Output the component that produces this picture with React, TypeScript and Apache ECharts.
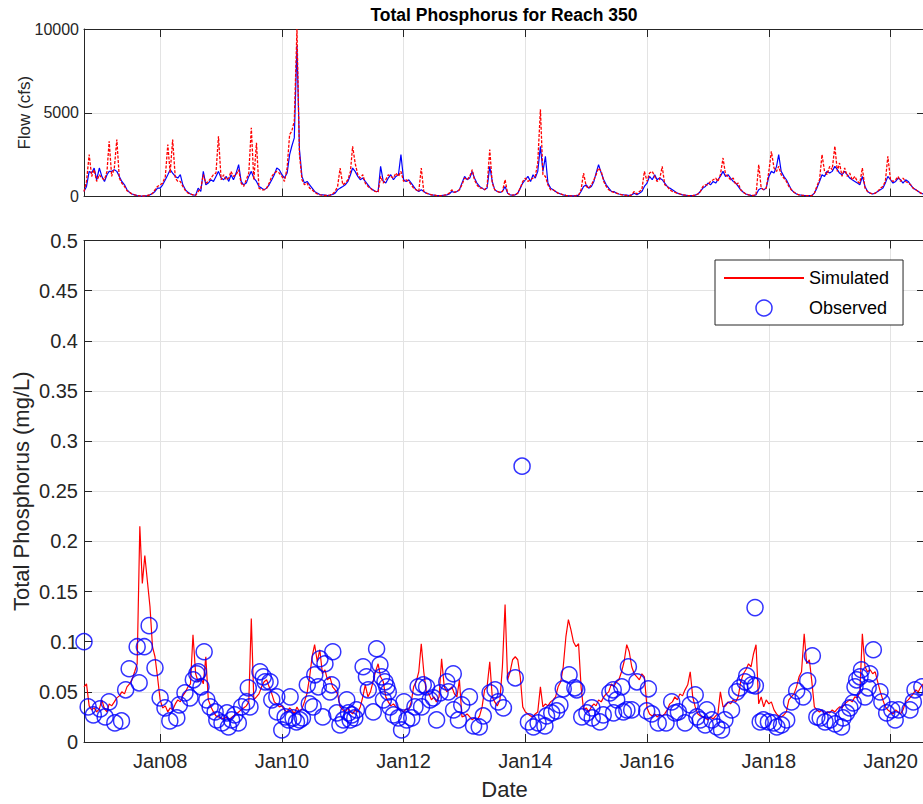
import React, { useEffect, useRef } from "react";
import * as echarts from "echarts";

// ---------- data ----------
const AXIS_START = "2006-10-01";
const AXIS_END = "2020-07-26";
const SERIES_START_YEAR = 2006;
const SERIES_START_MONTH = 10; // samples on the 1st and 16th of each month

// Flow (cfs), observed (blue), semi-monthly samples
const FLOW_OBS = [
  300, 600, 1500, 1400, 1700, 1000, 1700, 1200, 900, 1300, 1500, 1500, 1600, 1500, 1200, 900, 700, 400, 250, 150, 100, 60, 40, 30,
  40, 60, 100, 180, 300, 500, 500, 700, 1000, 1300, 1600, 1400, 1200, 1100, 1300, 700, 400, 250, 150, 100, 80, 500, 300, 1500,
  700, 800, 1000, 900, 1200, 1500, 1100, 1000, 1200, 900, 1300, 1000, 1400, 1900, 900, 700, 800, 1200, 1500, 1100, 900, 600, 500, 400,
  500, 700, 1000, 1300, 1700, 1600, 1300, 1100, 1400, 2500, 3000, 3500, 9000, 2800, 1200, 800, 900, 700, 500, 300, 200, 120, 100, 80,
  60, 80, 120, 200, 400, 500, 600, 700, 900, 1300, 1700, 1500, 1200, 1000, 1100, 900, 700, 500, 400, 300, 300, 1800, 900, 800,
  1100, 1300, 1000, 1200, 1300, 2500, 1000, 900, 1000, 800, 600, 400, 300, 400, 300, 200, 150, 100, 80, 60, 50, 60, 80, 100,
  150, 300, 250, 300, 400, 800, 1200, 1000, 1100, 1500, 1100, 800, 600, 500, 400, 500, 1800, 900, 400, 300, 250, 300, 600, 200,
  100, 80, 100, 200, 500, 800, 1000, 1200, 900, 1300, 1100, 1500, 3000, 1500, 2400, 800, 500, 400, 300, 200, 150, 100, 70, 50,
  40, 40, 50, 80, 300, 600, 700, 500, 600, 900, 1400, 1900, 1400, 1000, 700, 500, 300, 300, 200, 150, 120, 100, 80, 60,
  100, 200, 100, 200, 300, 600, 800, 1200, 1000, 1300, 1000, 1100, 1000, 800, 600, 500, 400, 300, 200, 150, 100, 80, 60, 50,
  50, 80, 150, 300, 500, 600, 800, 700, 900, 800, 1000, 1200, 1500, 1200, 1300, 1100, 900, 800, 600, 400, 250, 150, 100, 70,
  60, 100, 400, 500, 400, 500, 1200, 1500, 1400, 1800, 2500, 1500, 1200, 1000, 700, 400, 250, 150, 100, 80, 60, 50, 50, 60,
  200, 500, 900, 1300, 1200, 1500, 1400, 1500, 1800, 1600, 1400, 1300, 1500, 1300, 1100, 1000, 900, 800, 700, 1200, 600, 300, 200, 150,
  200, 300, 400, 500, 800, 1200, 1000, 800, 900, 1100, 1000, 800, 1000, 900, 700, 500, 400, 300, 200, 150, 120,
];

// Flow (cfs), simulated (red)
const FLOW_SIM = [
  300, 900, 2500, 1200, 1600, 900, 1300, 1100, 1000, 1500, 3300, 1200, 1700, 3400, 1100, 800, 600, 350, 250, 150, 100, 60, 40, 30,
  40, 60, 100, 180, 400, 600, 700, 800, 1200, 3100, 1400, 3400, 1100, 900, 900, 600, 350, 200, 150, 100, 60, 300, 500, 1300,
  800, 900, 1100, 1300, 1400, 3600, 1000, 1300, 1000, 1100, 1500, 1200, 1300, 1600, 800, 600, 1000, 1400, 4100, 1000, 3200, 500, 400, 400,
  500, 800, 1200, 1400, 1500, 1400, 1200, 900, 1700, 3700, 3900, 4500, 10000, 2500, 1000, 700, 800, 500, 400, 250, 150, 100, 80, 60,
  60, 80, 150, 300, 600, 1700, 700, 800, 1000, 1500, 3000, 2000, 1300, 1100, 1300, 800, 600, 500, 350, 300, 250, 1200, 800, 1000,
  1300, 1200, 1100, 1400, 1200, 1500, 900, 1000, 900, 700, 500, 400, 300, 1700, 300, 200, 150, 100, 80, 60, 50, 60, 80, 100,
  200, 400, 250, 300, 400, 700, 1100, 1000, 1200, 1600, 1000, 700, 500, 500, 400, 600, 2800, 800, 400, 300, 250, 300, 1000, 200,
  100, 80, 100, 200, 500, 900, 1100, 900, 1000, 1100, 1200, 2000, 5200, 1300, 1200, 700, 400, 400, 300, 200, 150, 100, 70, 50,
  40, 40, 50, 80, 400, 1400, 600, 500, 700, 1000, 1300, 1700, 1500, 900, 600, 400, 300, 250, 200, 150, 100, 80, 60, 50,
  100, 300, 150, 300, 400, 1500, 900, 1400, 1500, 1200, 900, 1000, 1800, 700, 600, 400, 300, 250, 200, 150, 100, 80, 60, 50,
  50, 80, 150, 300, 600, 700, 700, 900, 1000, 1100, 900, 1300, 2300, 1300, 1200, 1000, 1100, 700, 800, 400, 250, 150, 100, 70,
  60, 100, 1900, 500, 400, 500, 1500, 2700, 1700, 1500, 1800, 1300, 1100, 900, 600, 400, 250, 150, 100, 80, 60, 50, 50, 60,
  200, 600, 1000, 2500, 1500, 1300, 1800, 1600, 3000, 1500, 2000, 1200, 1700, 1200, 1400, 1000, 1200, 900, 800, 1700, 500, 300, 200, 150,
  200, 300, 500, 600, 900, 2400, 1000, 900, 1000, 1200, 900, 1100, 900, 800, 700, 500, 400, 300, 200, 150, 120,
];

// Total phosphorus (mg/L), simulated, semi-monthly samples
const TP_SIM = [
  0.055, 0.058, 0.036, 0.032, 0.034, 0.030, 0.033, 0.042, 0.033, 0.030, 0.038, 0.036, 0.040, 0.044, 0.046, 0.050, 0.048, 0.055, 0.058, 0.062, 0.070, 0.078, 0.215, 0.158,
  0.186, 0.161, 0.135, 0.095, 0.085, 0.065, 0.042, 0.034, 0.036, 0.030, 0.034, 0.032, 0.038, 0.042, 0.040, 0.046, 0.050, 0.055, 0.058, 0.107, 0.068, 0.060, 0.064, 0.058,
  0.085, 0.042, 0.035, 0.030, 0.026, 0.025, 0.024, 0.023, 0.025, 0.022, 0.024, 0.026, 0.028, 0.030, 0.032, 0.034, 0.036, 0.040, 0.123, 0.042, 0.045, 0.048, 0.055, 0.060,
  0.062, 0.055, 0.048, 0.040, 0.038, 0.035, 0.036, 0.032, 0.030, 0.034, 0.032, 0.028, 0.035, 0.030, 0.033, 0.040, 0.049, 0.065, 0.085, 0.097, 0.080, 0.092, 0.068, 0.072,
  0.062, 0.065, 0.055, 0.052, 0.048, 0.035, 0.032, 0.030, 0.034, 0.030, 0.028, 0.032, 0.030, 0.035, 0.045, 0.057, 0.045, 0.050, 0.060, 0.070, 0.078, 0.065, 0.060, 0.045,
  0.040, 0.036, 0.038, 0.035, 0.033, 0.032, 0.030, 0.033, 0.032, 0.040, 0.055, 0.060, 0.070, 0.098, 0.070, 0.050, 0.048, 0.042, 0.045, 0.040, 0.045, 0.083, 0.055, 0.050,
  0.052, 0.055, 0.048, 0.045, 0.062, 0.025, 0.026, 0.028, 0.025, 0.022, 0.024, 0.022, 0.026, 0.035, 0.052, 0.055, 0.080, 0.045, 0.040, 0.036, 0.042, 0.075, 0.137, 0.062,
  0.070, 0.082, 0.085, 0.082, 0.065, 0.035, 0.030, 0.028, 0.026, 0.025, 0.028, 0.030, 0.055, 0.035, 0.038, 0.036, 0.040, 0.042, 0.045, 0.055, 0.060, 0.075, 0.105, 0.122,
  0.112, 0.100, 0.095, 0.098, 0.055, 0.032, 0.034, 0.030, 0.035, 0.038, 0.036, 0.042, 0.040, 0.045, 0.048, 0.050, 0.058, 0.055, 0.060, 0.062, 0.070, 0.080, 0.097, 0.090,
  0.075, 0.068, 0.065, 0.062, 0.068, 0.065, 0.034, 0.028, 0.026, 0.028, 0.025, 0.027, 0.026, 0.028, 0.032, 0.038, 0.040, 0.045, 0.042, 0.048, 0.046, 0.052, 0.057, 0.070,
  0.045, 0.035, 0.028, 0.026, 0.025, 0.024, 0.022, 0.025, 0.023, 0.026, 0.028, 0.050, 0.035, 0.036, 0.040, 0.038, 0.042, 0.040, 0.045, 0.060, 0.068, 0.072, 0.078, 0.075,
  0.088, 0.097, 0.038, 0.045, 0.035, 0.042, 0.038, 0.040, 0.032, 0.028, 0.026, 0.025, 0.027, 0.030, 0.042, 0.045, 0.048, 0.055, 0.065, 0.070, 0.108, 0.078, 0.082, 0.060,
  0.035, 0.032, 0.030, 0.032, 0.028, 0.030, 0.029, 0.032, 0.030, 0.033, 0.035, 0.034, 0.038, 0.040, 0.042, 0.040, 0.045, 0.044, 0.050, 0.108, 0.075, 0.070, 0.072, 0.068,
  0.070, 0.060, 0.050, 0.042, 0.035, 0.032, 0.030, 0.028, 0.032, 0.030, 0.028, 0.032, 0.040, 0.042, 0.045, 0.048, 0.052, 0.050, 0.055, 0.058, 0.056,
];

// Total phosphorus (mg/L), observed samples
const OBS_DATES = [
  "2006-10-01", "2006-10-26", "2006-11-26", "2007-01-06", "2007-02-05", "2007-02-28", "2007-04-04", "2007-05-14", "2007-06-08", "2007-06-29",
  "2007-08-16", "2007-08-28", "2007-09-28", "2007-10-27", "2007-12-01", "2008-01-01", "2008-01-30", "2008-02-28", "2008-04-10", "2008-04-25",
  "2008-05-29", "2008-06-28", "2008-07-18", "2008-08-08", "2008-08-17", "2008-09-02", "2008-09-21", "2008-10-07", "2008-10-27", "2008-11-26",
  "2008-12-06", "2009-01-06", "2009-02-05", "2009-02-14", "2009-03-05", "2009-03-24", "2009-04-14", "2009-05-04", "2009-06-03", "2009-06-13",
  "2009-06-23", "2009-08-22", "2009-09-11", "2009-09-22", "2009-10-21", "2009-11-01", "2009-12-01", "2009-12-03", "2009-12-31", "2010-01-20",
  "2010-02-09", "2010-02-19", "2010-03-09", "2010-03-29", "2010-04-18", "2010-05-04", "2010-06-02", "2010-06-14", "2010-07-07", "2010-07-17",
  "2010-08-07", "2010-08-17", "2010-09-03", "2010-09-16", "2010-10-16", "2010-10-26", "2010-11-02", "2010-11-26", "2010-12-15", "2011-01-05",
  "2011-01-25", "2011-02-04", "2011-02-14", "2011-02-24", "2011-03-14", "2011-03-24", "2011-05-03", "2011-05-23", "2011-06-03", "2011-07-03",
  "2011-07-23", "2011-08-12", "2011-08-22", "2011-09-02", "2011-09-11", "2011-09-22", "2011-10-01", "2011-10-11", "2011-11-01", "2011-11-30",
  "2011-12-20", "2012-01-03", "2012-01-20", "2012-02-19", "2012-03-09", "2012-03-28", "2012-04-18", "2012-04-28", "2012-05-18", "2012-06-08",
  "2012-06-27", "2012-07-17", "2012-08-07", "2012-09-16", "2012-09-26", "2012-10-25", "2012-10-27", "2012-11-25", "2012-12-15", "2013-01-30",
  "2013-02-24", "2013-03-30", "2013-04-23", "2013-06-03", "2013-07-03", "2013-07-22", "2013-08-22", "2013-11-01", "2013-12-12", "2014-01-19",
  "2014-02-18", "2014-03-18", "2014-04-28", "2014-05-08", "2014-06-08", "2014-07-07", "2014-07-27", "2014-08-16", "2014-09-20", "2014-10-25",
  "2014-11-05", "2014-12-05", "2015-01-05", "2015-02-04", "2015-02-06", "2015-03-24", "2015-04-13", "2015-05-23", "2015-06-12", "2015-06-14",
  "2015-07-03", "2015-08-02", "2015-08-12", "2015-09-02", "2015-09-11", "2015-10-01", "2015-11-01", "2015-12-30", "2016-01-09", "2016-01-29",
  "2016-03-08", "2016-04-24", "2016-05-28", "2016-06-17", "2016-07-07", "2016-08-16", "2016-09-16", "2016-10-16", "2016-10-26", "2016-11-15",
  "2016-12-15", "2016-12-25", "2017-01-24", "2017-02-23", "2017-03-23", "2017-04-12", "2017-05-22", "2017-06-22", "2017-07-11", "2017-08-11",
  "2017-08-21", "2017-09-21", "2017-10-10", "2017-10-12", "2017-11-10", "2017-11-29", "2017-12-29", "2018-01-29", "2018-02-18", "2018-03-18",
  "2018-04-18", "2018-05-17", "2018-06-17", "2018-07-26", "2018-08-22", "2018-09-19", "2018-10-16", "2018-11-05", "2018-12-04", "2019-01-03",
  "2019-02-03", "2019-03-13", "2019-03-22", "2019-04-12", "2019-05-02", "2019-05-22", "2019-06-02", "2019-06-12", "2019-07-02", "2019-07-11",
  "2019-08-01", "2019-08-20", "2019-08-30", "2019-09-20", "2019-10-30", "2019-11-10", "2019-12-09", "2020-01-09", "2020-01-29", "2020-02-18",
  "2020-04-27", "2020-05-17", "2020-05-27", "2020-07-07",
];
const OBS_TP = [
  0.100, 0.035, 0.027, 0.033, 0.025, 0.040, 0.019, 0.021, 0.052, 0.073,
  0.095, 0.059, 0.095, 0.116, 0.074, 0.044, 0.034, 0.021, 0.024, 0.037,
  0.049, 0.044, 0.062, 0.068, 0.070, 0.055, 0.090, 0.042, 0.035, 0.030,
  0.022, 0.019, 0.029, 0.015, 0.022, 0.027, 0.019, 0.035, 0.040, 0.054,
  0.035, 0.070, 0.065, 0.060, 0.060, 0.042, 0.045, 0.030, 0.012, 0.025,
  0.022, 0.045, 0.024, 0.020, 0.022, 0.024, 0.057, 0.038, 0.035, 0.067,
  0.055, 0.083, 0.025, 0.078, 0.050, 0.057, 0.090, 0.029, 0.017, 0.022,
  0.042, 0.029, 0.022, 0.027, 0.024, 0.032, 0.075, 0.065, 0.052, 0.030,
  0.093, 0.077, 0.065, 0.042, 0.060, 0.055, 0.050, 0.035, 0.027, 0.024,
  0.012, 0.040, 0.022, 0.024, 0.035, 0.055, 0.035, 0.057, 0.055, 0.042,
  0.044, 0.022, 0.049, 0.060, 0.050, 0.068, 0.032, 0.022, 0.037, 0.045,
  0.016, 0.015, 0.026, 0.049, 0.052, 0.040, 0.034, 0.064, 0.275, 0.020,
  0.015, 0.019, 0.016, 0.026, 0.029, 0.031, 0.037, 0.053, 0.067, 0.054,
  0.052, 0.025, 0.029, 0.034, 0.024, 0.020, 0.027, 0.049, 0.052, 0.029,
  0.042, 0.055, 0.030, 0.032, 0.075, 0.032, 0.060, 0.031, 0.053, 0.028,
  0.019, 0.019, 0.040, 0.029, 0.030, 0.019, 0.037, 0.047, 0.025, 0.022,
  0.017, 0.032, 0.022, 0.015, 0.012, 0.022, 0.032, 0.050, 0.054, 0.060,
  0.066, 0.057, 0.134, 0.056, 0.020, 0.022, 0.020, 0.019, 0.015, 0.017,
  0.022, 0.040, 0.051, 0.045, 0.061, 0.086, 0.025, 0.024, 0.020, 0.022,
  0.018, 0.015, 0.024, 0.029, 0.034, 0.039, 0.055, 0.062, 0.065, 0.072,
  0.045, 0.054, 0.068, 0.092, 0.050, 0.040, 0.029, 0.032, 0.022, 0.032,
  0.032, 0.040, 0.052, 0.055,
];

// ---------- helpers ----------
const toTime = (s: string) => {
  const [y, m, d] = s.split("-").map(Number);
  return new Date(y, m - 1, d).getTime();
};
const sampleTime = (i: number) => {
  const mIdx = SERIES_START_MONTH - 1 + Math.floor(i / 2);
  const y = SERIES_START_YEAR + Math.floor(mIdx / 12);
  return new Date(y, mIdx % 12, i % 2 === 0 ? 1 : 16).getTime();
};
const pairs = (vals: number[]) => vals.map((v, i) => [sampleTime(i), v]);

const FONT = "'Liberation Sans', Arial, Helvetica, sans-serif";
const AXIS = "#262626";
const GRIDC = "#e3e3e3";

export default function App() {
  const ref = useRef<HTMLDivElement>(null);

  useEffect(() => {
    if (!ref.current) return;
    const chart = echarts.init(ref.current, undefined, { renderer: "svg" });
    const tMin = toTime(AXIS_START);
    const tMax = toTime(AXIS_END);
    const TWO_YEARS = 2 * 365.25 * 86400000;

    const janLabel = (v: number) => {
      const d = new Date(v);
      if (d.getMonth() === 0 && d.getDate() === 1) return "Jan" + String(d.getFullYear()).slice(2);
      return "";
    };

    const xAxisFor = (gridIndex: number, labels: boolean, fontSize: number) => ({
      type: "time",
      gridIndex,
      min: tMin,
      max: tMax,
      minInterval: TWO_YEARS,
      maxInterval: TWO_YEARS,
      axisLine: { show: true, onZero: false, lineStyle: { color: AXIS, width: 1 } },
      axisTick: { show: true, inside: true, length: 8, lineStyle: { color: AXIS } },
      axisLabel: {
        show: labels,
        color: AXIS,
        fontSize,
        fontFamily: FONT,
        margin: 9,
        showMinLabel: false,
        showMaxLabel: false,
        formatter: janLabel,
      },
      splitLine: { show: true, lineStyle: { color: GRIDC, width: 1 } },
    });
    const xTopFor = (gridIndex: number) => ({
      type: "time",
      gridIndex,
      position: "top",
      min: tMin,
      max: tMax,
      minInterval: TWO_YEARS,
      maxInterval: TWO_YEARS,
      axisLine: { show: true, onZero: false, lineStyle: { color: AXIS, width: 1 } },
      axisTick: { show: true, inside: true, length: 8, lineStyle: { color: AXIS } },
      axisLabel: { show: false },
      splitLine: { show: false },
    });

    const option: any = {
      animation: false,
      backgroundColor: "#ffffff",
      title: {
        text: "Total Phosphorus for Reach 350",
        left: 499,
        top: 1,
        textAlign: "center",
        textStyle: { fontSize: 17.5, fontWeight: "bold", color: "#000", fontFamily: FONT },
      },
      legend: {
        orient: "vertical",
        left: 715,
        top: 260,
        padding: [9, 14, 8, 8],
        itemWidth: 80,
        itemHeight: 16,
        itemGap: 12,
        backgroundColor: "#ffffff",
        borderColor: AXIS,
        borderWidth: 1,
        borderRadius: 0,
        selectedMode: false,
        textStyle: { fontSize: 18, color: "#000", fontFamily: FONT },
        data: [
          { name: "Simulated", itemStyle: { color: "rgba(0,0,0,0)", borderWidth: 0, opacity: 0 } },
          { name: "Observed", icon: "circle", itemStyle: { color: "rgba(0,0,0,0)", borderColor: "#0000ff", borderWidth: 1.5 } },
        ],
      },
      grid: [
        { left: 84, top: 29, right: -2, height: 167.5, containLabel: false, outerBoundsMode: "none" },
        { left: 84, top: 240.5, right: -2, height: 501.5, containLabel: false, outerBoundsMode: "none" },
      ],
      xAxis: [xAxisFor(0, false, 16), xTopFor(0), xAxisFor(1, true, 20), xTopFor(1)],
      yAxis: [
        {
          type: "value",
          gridIndex: 0,
          min: 0,
          max: 10000,
          interval: 5000,
          name: "Flow (cfs)",
          nameLocation: "middle",
          nameGap: 51,
          nameMoveOverlap: false,
          nameTextStyle: { fontSize: 17, color: AXIS, fontFamily: FONT },
          axisLine: { show: true, lineStyle: { color: AXIS, width: 1 } },
          axisTick: { show: true, inside: true, length: 8, lineStyle: { color: AXIS } },
          axisLabel: { color: AXIS, fontSize: 16, fontFamily: FONT, margin: 5, formatter: (v: number) => String(v) },
          splitLine: { show: true, lineStyle: { color: GRIDC, width: 1 } },
        },
        {
          type: "value",
          gridIndex: 0,
          position: "right",
          min: 0,
          max: 10000,
          interval: 5000,
          axisLine: { show: true, lineStyle: { color: AXIS, width: 1 } },
          axisTick: { show: true, inside: true, length: 8, lineStyle: { color: AXIS } },
          axisLabel: { show: false },
          splitLine: { show: false },
        },
        {
          type: "value",
          gridIndex: 1,
          min: 0,
          max: 0.5,
          interval: 0.05,
          name: "Total Phosphorus (mg/L)",
          nameLocation: "middle",
          nameGap: 52,
          nameMoveOverlap: false,
          nameTextStyle: { fontSize: 22, color: AXIS, fontFamily: FONT },
          axisLine: { show: true, lineStyle: { color: AXIS, width: 1 } },
          axisTick: { show: true, inside: true, length: 8, lineStyle: { color: AXIS } },
          axisLabel: { color: AXIS, fontSize: 20, fontFamily: FONT, margin: 6 },
          splitLine: { show: true, lineStyle: { color: GRIDC, width: 1 } },
        },
        {
          type: "value",
          gridIndex: 1,
          position: "right",
          min: 0,
          max: 0.5,
          interval: 0.05,
          axisLine: { show: true, lineStyle: { color: AXIS, width: 1 } },
          axisTick: { show: true, inside: true, length: 8, lineStyle: { color: AXIS } },
          axisLabel: { show: false },
          splitLine: { show: false },
        },
      ],
      series: [
        {
          name: "Observed Flow",
          type: "line",
          xAxisIndex: 0,
          yAxisIndex: 0,
          data: pairs(FLOW_OBS),
          symbol: "none",
          lineStyle: { color: "#0000ff", width: 1.2 },
          itemStyle: { color: "#0000ff" },
          z: 2,
        },
        {
          name: "Simulated Flow",
          type: "line",
          xAxisIndex: 0,
          yAxisIndex: 0,
          data: pairs(FLOW_SIM),
          symbol: "none",
          lineStyle: { color: "#ff0000", width: 1.3, type: [3, 1.5] },
          itemStyle: { color: "#ff0000" },
          z: 3,
        },
        {
          name: "Simulated",
          type: "line",
          xAxisIndex: 2,
          yAxisIndex: 2,
          data: pairs(TP_SIM),
          symbol: "none",
          lineStyle: { color: "#ff0000", width: 1.2 },
          itemStyle: { color: "#ff0000" },
          z: 3,
        },
        {
          name: "Observed",
          type: "scatter",
          xAxisIndex: 2,
          yAxisIndex: 2,
          data: OBS_DATES.map((d, i) => [toTime(d), OBS_TP[i]]),
          symbol: "circle",
          symbolSize: 16,
          clip: false,
          itemStyle: { color: "rgba(0,0,0,0)", borderColor: "#0000ff", borderWidth: 1.5 },
          z: 4,
        },
      ],
    };
    option.xAxis[2].name = "Date";
    option.xAxis[2].nameLocation = "middle";
    option.xAxis[2].nameGap = 36;
    option.xAxis[2].nameMoveOverlap = false;
    option.xAxis[2].nameTextStyle = { fontSize: 22, color: AXIS, fontFamily: FONT };

    chart.setOption(option);
    return () => chart.dispose();
  }, []);

  return (
    <div
      ref={ref}
      style={{ position: "absolute", left: 0, top: 0, width: 923, height: 804, background: "#fff" }}
    />
  );
}
